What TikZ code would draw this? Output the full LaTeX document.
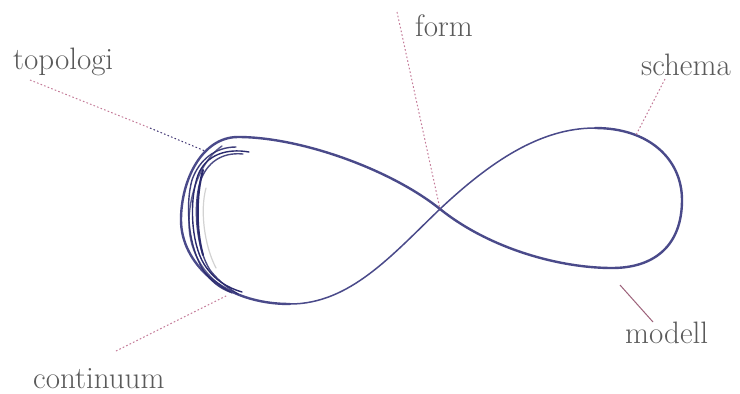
\documentclass[tikz,border=0pt]{standalone}
\begin{document}
\begin{tikzpicture}[x=1pt,y=-1pt,
  curve/.style={draw=navy,line width=2.4pt,line cap=round,line join=round},
  thincurve/.style={draw=navy,line width=1.5pt,line cap=round,line join=round},
  scribble/.style={draw=darknavy,line width=1.4pt,line cap=round},
  leader/.style={draw=leadpink,line width=1pt,dash pattern=on 1.6pt off 2.2pt},
  lbl/.style={text=labelgray,font=\fontsize{31}{36}\selectfont,inner sep=0pt,anchor=base west}]
\definecolor{navy}{HTML}{4A4A8A}
\definecolor{darknavy}{HTML}{2A2A6E}
\definecolor{leadpink}{HTML}{C47A98}
\definecolor{labelgray}{HTML}{5A5A5A}
\useasboundingbox (0,0) rectangle (740,394);
\fill[white] (0,0) rectangle (740,394);
% figure eight
\coordinate (C) at (440,209);
\coordinate (B) at (290,304);
\coordinate (R) at (595,128);
\draw[thincurve] (B) .. controls (350,304) and (392,255) .. (C)
  .. controls (490,162) and (540,128) .. (R);
\draw[curve] (R) .. controls (650,128) and (682,160) .. (682,200)
  .. controls (682,245) and (655,268) .. (612,268)
  .. controls (560,268) and (490,249) .. (C)
  .. controls (390,169) and (300,137) .. (238,137)
  .. controls (202,137) and (181,180) .. (181,220)
  .. controls (181,262) and (222,304) .. (B);
% scribbles on left lobe
\draw[scribble] (249,152) .. controls (226,148) and (206,155) .. (198,175)
  .. controls (189,200) and (191,243) .. (204,264) .. controls (214,280) and (228,288) .. (242,292);
\draw[scribble,opacity=0.85] (243,154) .. controls (222,152) and (207,162) .. (200,182)
  .. controls (193,206) and (196,248) .. (210,270) .. controls (220,283) and (230,289) .. (238,294);
\draw[scribble,opacity=0.9] (236,147) .. controls (215,147) and (199,160) .. (192,180)
  .. controls (185,205) and (188,250) .. (206,274) .. controls (214,284) and (222,289) .. (230,292);
\draw[scribble,opacity=0.75] (222,146) .. controls (204,158) and (190,188) .. (189,220)
  .. controls (188,255) and (208,280) .. (232,293);
\draw[scribble,line width=2pt] (203,170) .. controls (196,195) and (196,230) .. (203,255);
\draw[draw=gray!35,line width=1.2pt,line cap=round] (206,188) .. controls (200,210) and (204,245) .. (216,268);
% labels
\node[lbl] (topologi) at (13,69) {topologi};
\node[lbl] (form) at (415,36) {form};
\node[lbl] (schema) at (641,75) {schema};
\node[lbl] (modell) at (625,343) {modell};
\node[lbl] (continuum) at (33,388) {continuum};
% leader lines
\coordinate (t0) at (30,80);
\coordinate (tm) at (150,128);
\coordinate (t1) at (205,151);
\coordinate (f0) at (397,12);
\coordinate (s0) at (665,79);
\coordinate (s1) at (636,135);
\coordinate (m0) at (620,285);
\coordinate (m1) at (653,322);
\coordinate (c0) at (116,351);
\coordinate (c1) at (228,295);
\draw[leader] (t0) -- (tm);
\draw[leader,draw=darknavy!85!leadpink] (tm) -- (t1);
\draw[leader] (f0) -- (C);
\draw[leader] (s0) -- (s1);
\draw[draw=leadpink!80!black,line width=1pt] (m0) -- (m1);
\draw[leader] (c0) -- (c1);
\end{tikzpicture}
\end{document}
